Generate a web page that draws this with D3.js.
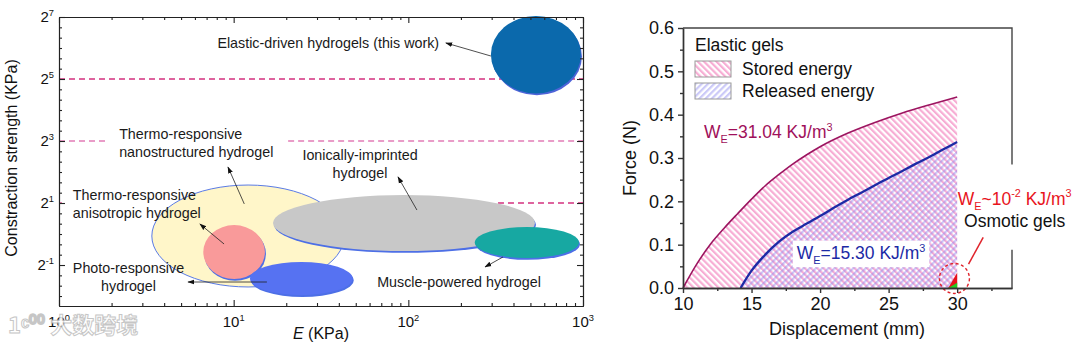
<!DOCTYPE html>
<html>
<head>
<meta charset="utf-8">
<script src="https://cdn.jsdelivr.net/npm/d3@7"></script>
<style>
  body { margin: 0; background: #fff; }
  svg { display: block; font-family: "Liberation Sans", Arial, sans-serif; }
</style>
</head>
<body>
<script>
// ---------- LEFT PANEL DATA: property window of each actuating hydrogel family
var gelNames = ["Thermo-responsive nanostructured", "Thermo-responsive anisotropic", "Photo-responsive",
                "Ionically-imprinted", "Muscle-powered", "Elastic-driven"];
var modulusLow    = [3.4, 6.7, 12.4, 16.8, 240, 297];      // E, KPa
var modulusHigh   = [43, 15.1, 48, 531, 948, 973];
var strengthLow   = [0.306, 0.366, 0.255, 0.683, 0.585, 23.2];  // contraction strength, KPa
var strengthHigh  = [2.99, 1.22, 0.535, 2.39, 1.17, 131];
var gelFill       = ["#fff6c9", "#f99a9a", "#5672f2", "#c8c8c8", "#17a8a2", "#0b69ac"];

// reference levels drawn as dashed guides (KPa), with the E spans where they show
var guideLevels = [32, 8, 2];
var guideSpans  = [[[1, 1000]], [[1, 1.85], [20.5, 1000]], [[1, 1.04], [326, 1000]]];

// labels + arrows, all in data units (E, strength)
var gelNotes = [
  {lines: ["Elastic-driven hydrogels (this work)"], at: [150, 64], anchor: "end", from: [297, 53.5], to: [164, 71.6]},
  {lines: ["Thermo-responsive", "nanostructured hydrogel"], at: [2.21, 8.37], anchor: "start", from: [11.5, 1.96], to: [9.28, 4.47]},
  {lines: ["Ionically-imprinted", "hydrogel"], at: [52.9, 5.23], anchor: "middle", from: [112, 1.71], to: [87.3, 3.58]},
  {lines: ["Thermo-responsive", "anisotropic hydrogel"], at: [1.2, 2.14], anchor: "start", from: [8.81, 0.8], to: [6.41, 1.25]},
  {lines: ["Photo-responsive", "hydrogel"], at: [2.5, 0.418], anchor: "middle", from: [15.5, 0.342], to: [5.48, 0.342]},
  {lines: ["Muscle-powered hydrogel"], at: [195, 0.306], anchor: "middle", from: [348, 0.598], to: [275, 0.478]}
];

var eDecades = [1, 10, 100, 1000];
var sMajor = [0.5, 2, 8, 32, 128];

// ---------- RIGHT PANEL DATA: force-displacement of elastic gels
var dispStored  = [10, 11, 12, 13, 14, 15, 16, 17, 18, 19, 20, 22, 24, 26, 28, 30];
var forceStored = [0, 0.055, 0.101, 0.138, 0.172, 0.205, 0.236, 0.262, 0.286, 0.307, 0.326, 0.357, 0.382, 0.404, 0.423, 0.441];
var dispReleased  = [14.2, 15, 16, 17, 18, 19, 20, 21, 22, 23, 24, 25, 26, 27, 28, 29, 30];
var forceReleased = [0, 0.04, 0.077, 0.107, 0.13, 0.148, 0.166, 0.185, 0.203, 0.22, 0.237, 0.254, 0.27, 0.287, 0.303, 0.32, 0.337];
// osmotic gels, barely visible near 30 mm
var dispOsmotic = [29.35, 30];
var forceOsmoticStored = [0, 0.035];
var forceOsmoticReleased = [0, 0.012];

var dispTicks = [10, 15, 20, 25, 30];
var dispMinor = [12.5, 17.5, 22.5, 27.5, 32.5];
var forceTicks = [0, 0.1, 0.2, 0.3, 0.4, 0.5, 0.6];
var forceMinor = [0.05, 0.15, 0.25, 0.35, 0.45, 0.55];

var svg = d3.select("body").append("svg").attr("width", 1080).attr("height", 343);
var defs = svg.append("defs");

defs.append("marker").attr("id", "arrowHead")
    .attr("viewBox", "0 0 10 10").attr("refX", 9).attr("refY", 5)
    .attr("markerWidth", 7).attr("markerHeight", 7)
    .attr("markerUnits", "userSpaceOnUse").attr("orient", "auto")
  .append("path").attr("d", "M0,1.5L10,5L0,8.5Z").attr("fill", "#111");

// text with sub/superscripts; parts = [[text, ""|"sub"|"sup"], ...]
function richText(g, x, y, parts, size, fill, anchor) {
  var t = g.append("text").attr("x", x).attr("y", y)
      .attr("font-size", size).attr("fill", fill)
      .attr("text-anchor", anchor || "start");
  var shift = 0;
  parts.forEach(function(p) {
    var target = p[1] === "sup" ? -0.42 * size : p[1] === "sub" ? 0.3 * size : 0;
    t.append("tspan").attr("dy", target - shift)
        .attr("font-size", p[1] ? size * 0.62 : size).text(p[0]);
    shift = target;
  });
  return t;
}

// =================== LEFT PANEL ===================
var xE = d3.scaleLog().domain([1, 1000]).range([59, 583]);
var yS = d3.scaleLog().base(2).domain([0.2, 128]).range([306, 17]);
var left = svg.append("g");

// dashed guides
guideLevels.forEach(function(lv, i) {
  guideSpans[i].forEach(function(sp) {
    left.append("line")
        .attr("x1", xE(sp[0])).attr("x2", xE(sp[1]))
        .attr("y1", yS(lv)).attr("y2", yS(lv))
        .attr("stroke", i === 1 ? "#e27cb6" : "#d4307f")
        .attr("stroke-width", 1.3)
        .attr("stroke-dasharray", "6,4");
  });
});

// ellipses: a blue rim underneath, then the fill
gelNames.forEach(function(name, i) {
  var x0 = xE(modulusLow[i]), x1 = xE(modulusHigh[i]);
  var y0 = yS(strengthHigh[i]), y1 = yS(strengthLow[i]);
  var cx = (x0 + x1) / 2, cy = (y0 + y1) / 2, rx = (x1 - x0) / 2, ry = (y1 - y0) / 2;
  if (i === 0) {
    left.append("ellipse").attr("cx", cx).attr("cy", cy).attr("rx", rx).attr("ry", ry)
        .attr("fill", gelFill[i]).attr("stroke", "#5a7be6").attr("stroke-width", 1);
  } else {
    left.append("ellipse").attr("cx", cx + 1).attr("cy", cy + 1.8).attr("rx", rx).attr("ry", ry)
        .attr("fill", i === 5 ? "#4e63d8" : "#4d6fe6");
    left.append("ellipse").attr("cx", cx).attr("cy", cy).attr("rx", rx).attr("ry", ry)
        .attr("fill", gelFill[i]);
  }
});

// annotations
gelNotes.forEach(function(n) {
  left.append("line")
      .attr("x1", xE(n.from[0])).attr("y1", yS(n.from[1]))
      .attr("x2", xE(n.to[0])).attr("y2", yS(n.to[1]))
      .attr("stroke", "#222").attr("stroke-width", 0.8)
      .attr("marker-end", "url(#arrowHead)");
  var t = left.append("text")
      .attr("x", xE(n.at[0])).attr("y", yS(n.at[1]))
      .attr("text-anchor", n.anchor).attr("font-size", 14.3).attr("fill", "#1a1a1a");
  n.lines.forEach(function(l, k) {
    t.append("tspan").attr("x", xE(n.at[0])).attr("dy", k ? 18 : 0).text(l);
  });
});

// axes: inward ticks on all four sides
var eMinor = [];
eDecades.slice(0, 3).forEach(function(d) { for (var m = 2; m < 10; m++) eMinor.push(d * m); });
var sMinor = [];
for (var k = -6; k <= 21; k++) {
  if (!sMajor.some(function(v) { return Math.abs(Math.log2(v) - k / 3) < 1e-6; })) sMinor.push(Math.pow(2, k / 3));
}

function frameAxis(axis, scale, values, size, transform) {
  left.append("g").attr("transform", transform)
      .call(axis(scale).tickValues(values).tickSizeInner(-size).tickSizeOuter(0).tickFormat(""))
      .call(function(g) {
        g.selectAll("path, line").attr("stroke", "#222").attr("stroke-width", 1.1);
      });
}
frameAxis(d3.axisBottom, xE, eDecades, 6, "translate(0,306)");
frameAxis(d3.axisBottom, xE, eMinor, 3, "translate(0,306)");
frameAxis(d3.axisTop, xE, eDecades, 6, "translate(0,17)");
frameAxis(d3.axisTop, xE, eMinor, 3, "translate(0,17)");
frameAxis(d3.axisLeft, yS, sMajor, 6, "translate(59,0)");
frameAxis(d3.axisLeft, yS, sMinor, 3, "translate(59,0)");
frameAxis(d3.axisRight, yS, sMajor, 6, "translate(583,0)");
frameAxis(d3.axisRight, yS, sMinor, 3, "translate(583,0)");

eDecades.forEach(function(d) {
  richText(left, xE(d), 327, [["10", ""], [String(Math.round(Math.log10(d))), "sup"]], 15, "#111", "middle");
});
sMajor.forEach(function(v) {
  richText(left, 54, yS(v) + 5, [["2", ""], [String(Math.round(Math.log2(v))), "sup"]], 15, "#111", "end");
});

var xTitle = left.append("text").attr("x", 321).attr("y", 339).attr("text-anchor", "middle")
    .attr("font-size", 16).attr("fill", "#111");
xTitle.append("tspan").attr("font-style", "italic").text("E");
xTitle.append("tspan").text(" (KPa)");

left.append("text").attr("transform", "translate(17,158) rotate(-90)")
    .attr("text-anchor", "middle").attr("font-size", 16).attr("fill", "#111")
    .text("Constraction strength (KPa)");

// =================== RIGHT PANEL ===================
var xD = d3.scaleLinear().domain([10, 34]).range([683, 1012]);
var yF = d3.scaleLinear().domain([0, 0.6]).range([288, 28]);
var right = svg.append("g");

function hatch(id, angle, color) {
  var p = defs.append("pattern").attr("id", id).attr("patternUnits", "userSpaceOnUse")
      .attr("width", 4.4).attr("height", 4.4).attr("patternTransform", "rotate(" + angle + ")");
  p.append("rect").attr("width", 2.2).attr("height", 4.4).attr("fill", color);
}
hatch("storedHatch", -45, "rgba(245,150,200,0.78)");
hatch("releasedHatch", 45, "rgba(140,135,240,0.45)");

var storedPts = dispStored.map(function(d, i) { return [d, forceStored[i]]; });
var releasedPts = dispReleased.map(function(d, i) { return [d, forceReleased[i]]; });

var area = d3.area().x(function(d) { return xD(d[0]); })
    .y0(yF(0)).y1(function(d) { return yF(d[1]); }).curve(d3.curveMonotoneX);
var line = d3.line().x(function(d) { return xD(d[0]); })
    .y(function(d) { return yF(d[1]); }).curve(d3.curveMonotoneX);

right.append("path").attr("d", area(storedPts)).attr("fill", "url(#storedHatch)");
right.append("path").attr("d", area(releasedPts)).attr("fill", "url(#releasedHatch)");
right.append("path").attr("d", line(storedPts)).attr("fill", "none")
    .attr("stroke", "#9c1560").attr("stroke-width", 1.6);
right.append("path").attr("d", line(releasedPts)).attr("fill", "none")
    .attr("stroke", "#1c2aa5").attr("stroke-width", 2.3);

// osmotic gels
var osmStored = dispOsmotic.map(function(d, i) { return [d, forceOsmoticStored[i]]; });
var osmReleased = dispOsmotic.map(function(d, i) { return [d, forceOsmoticReleased[i]]; });
var areaLin = d3.area().x(function(d) { return xD(d[0]); })
    .y0(yF(0)).y1(function(d) { return yF(d[1]); });
right.append("path").attr("d", areaLin(osmStored)).attr("fill", "#e8101a");
right.append("path").attr("d", areaLin(osmReleased)).attr("fill", "#22cc22");
right.append("circle").attr("cx", xD(29.8)).attr("cy", yF(0.022)).attr("r", 15)
    .attr("fill", "none").attr("stroke", "#e0242c").attr("stroke-width", 1.4)
    .attr("stroke-dasharray", "3,2.5");
right.append("line").attr("x1", xD(30.83)).attr("y1", yF(0.055))
    .attr("x2", xD(31.9)).attr("y2", yF(0.117))
    .attr("stroke", "#e0242c").attr("stroke-width", 1.5);

// axes
function plainAxis(axis, scale, values, size, transform, fmt) {
  right.append("g").attr("transform", transform)
      .call(axis(scale).tickValues(values).tickSizeInner(size).tickSizeOuter(0)
            .tickPadding(4).tickFormat(fmt || ""))
      .call(function(g) {
        g.selectAll("path, line").attr("stroke", "#333").attr("stroke-width", 1.4);
        g.selectAll("text").attr("font-size", 18).attr("fill", "#111")
            .attr("font-family", "Liberation Sans, Arial, sans-serif");
      });
}
plainAxis(d3.axisBottom, xD, dispTicks, 5, "translate(0,288)", d3.format("d"));
plainAxis(d3.axisBottom, xD, dispMinor, 3, "translate(0,288)");
plainAxis(d3.axisLeft, yF, forceTicks, 5, "translate(683,0)", d3.format(".1f"));
plainAxis(d3.axisLeft, yF, forceMinor, 3, "translate(683,0)");

// top and right border, the right one broken by the osmotic label
right.append("path")
    .attr("d", "M" + xD(10) + "," + yF(0.6) + "H" + xD(34) + "V" + yF(0.285) +
               "M" + xD(34) + "," + yF(0.088) + "V" + yF(0))
    .attr("fill", "none").attr("stroke", "#444").attr("stroke-width", 1.4);

right.append("text").attr("x", 847).attr("y", 335).attr("text-anchor", "middle")
    .attr("font-size", 18).attr("fill", "#111").text("Displacement (mm)");
right.append("text").attr("transform", "translate(636,158) rotate(-90)")
    .attr("text-anchor", "middle").attr("font-size", 18).attr("fill", "#111").text("Force (N)");

// legend
right.append("text").attr("x", 695).attr("y", 51).attr("font-size", 17.5).attr("fill", "#111").text("Elastic gels");
[["url(#storedHatch)", "Stored energy"], ["url(#releasedHatch)", "Released energy"]].forEach(function(e, i) {
  right.append("rect").attr("x", 695).attr("y", 61 + i * 22).attr("width", 36).attr("height", 16)
      .attr("fill", e[0]).attr("stroke", "#9a9a9a").attr("stroke-width", 1);
  right.append("text").attr("x", 742).attr("y", 75 + i * 22).attr("font-size", 17.5)
      .attr("fill", "#111").text(e[1]);
});

// energy labels
richText(right, xD(11.53), yF(0.346), [["W", ""], ["E", "sub"], ["=31.04 KJ/m", ""], ["3", "sup"]], 17.5, "#a0105a");
var relLabel = richText(right, xD(18.3), yF(0.067), [["W", ""], ["E", "sub"], ["=15.30 KJ/m", ""], ["3", "sup"]], 17.5, "#1c2aa5");
var bb = relLabel.node().getBBox();
right.insert("rect", function() { return relLabel.node(); })
    .attr("x", bb.x - 4).attr("y", bb.y - 1).attr("width", bb.width + 8).attr("height", bb.height + 2)
    .attr("fill", "#fff");

richText(right, xD(30.04), yF(0.192), [["W", ""], ["E", "sub"], ["~10", ""], ["-2", "sup"], [" KJ/m", ""], ["3", "sup"]], 17.5, "#e8141c");
right.append("text").attr("x", xD(30.5)).attr("y", yF(0.14)).attr("font-size", 17.5)
    .attr("fill", "#111").text("Osmotic gels");

// watermark
svg.append("text").attr("x", 8).attr("y", 333).attr("font-size", 22).attr("font-weight", "bold")
    .attr("font-family", "Noto Sans CJK SC, sans-serif")
    .attr("fill", "#fff").attr("stroke", "#bdbdbd").attr("stroke-width", 1).attr("opacity", 0.85)
    .text("1ᶜ⁰⁰ 大数跨境");
</script>
</body>
</html>
